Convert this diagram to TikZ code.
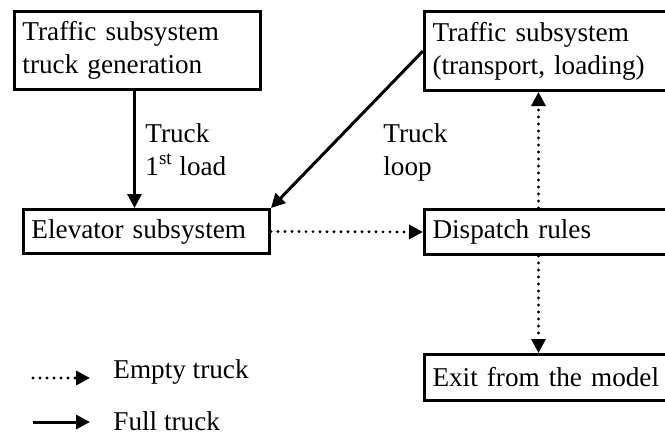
\documentclass[tikz,border=0pt]{standalone}
\usepackage{fontspec}
\setmainfont{Liberation Serif}
\usetikzlibrary{arrows.meta, positioning}

\tikzset{
  subsys/.style={draw, line width=1.5pt, anchor=north west, align=left, inner xsep=4pt, inner ysep=0pt, text width=115pt, font=\fontsize{13.6}{16.5}\selectfont},
  rightcol/.style={text width=122pt},
  full/.style={line width=1.5pt, -{Triangle[length=7pt, width=7pt]}},
  empty/.style={line width=1.6pt, line cap=round, dash pattern=on 0pt off 3.5pt, -{Triangle[length=7pt, width=7pt]}},
  lbl/.style={inner sep=0pt, align=left, font=\fontsize{13.6}{16.5}\selectfont}
}

\begin{document}
\begin{tikzpicture}[x=0.5pt, y=0.5pt]
            \useasboundingbox (0,0) rectangle (665,435);
            % Subsystem boxes
            \node[subsys, minimum height=39pt] (gen) at (13,425) {Traffic subsystem\\truck generation};
            \node[subsys, rightcol, minimum height=39.5pt] (transp) at (423,425) {Traffic subsystem\\(transport, loading)};
            \node[subsys, minimum height=22pt] (elev) at (22,227) {Elevator subsystem};
            \node[subsys, rightcol, minimum height=22.5pt] (disp) at (423,227) {Dispatch rules};
            \node[subsys, rightcol, minimum height=23pt] (exit) at (423,82) {Exit from the model};

            % Flows
            \draw[full] ([xshift=-1.5pt]gen.south) -- ([xshift=-1.5pt]gen.south |- elev.north);
            \draw[full] (transp.west) -- (elev.north east);
            \draw[empty] (elev.east) -- (disp.west);
            \draw[empty] ([xshift=-8pt]disp.north) -- ([xshift=-8pt]transp.south);
            \draw[empty] ([xshift=-8pt]disp.south) -- ([xshift=-8pt]exit.north);

            % Labels on the flows
            \node[lbl, anchor=north west] (firstload) at (145,312) {Truck\\1\textsuperscript{st} load};
            \node[lbl, anchor=north west] (loop) at (383,312) {Truck\\loop};

            % Legend
            \coordinate (emptyA) at (33,57);
            \coordinate (emptyB) at (90,57);
            \coordinate (fullA) at (33,13);
            \coordinate (fullB) at (90,13);
            \draw[empty] (emptyA) -- (emptyB);
            \draw[full] (fullA) -- (fullB);
            \node[lbl, anchor=base west] (emptylbl) at (113,57) {Empty truck};
            \node[lbl, anchor=base west] (fulllbl) at (113,5) {Full truck};
        \end{tikzpicture}
\end{document}
